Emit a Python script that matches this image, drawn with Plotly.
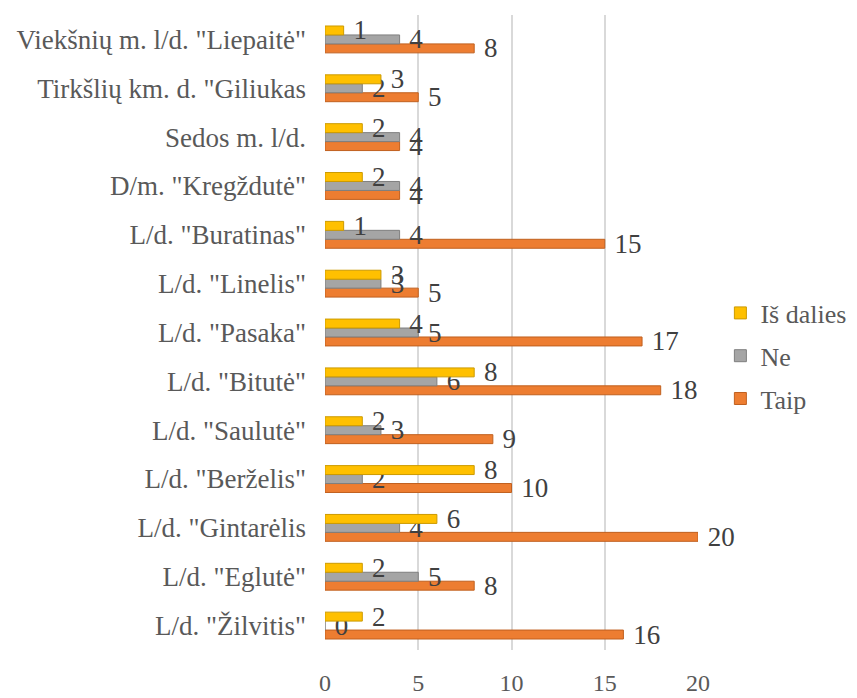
import plotly.graph_objects as go

categories = [
    'L/d. "Žilvitis"', 'L/d. "Eglutė"', 'L/d. "Gintarėlis', 'L/d. "Berželis"',
    'L/d. "Saulutė"', 'L/d. "Bitutė"', 'L/d. "Pasaka"', 'L/d. "Linelis"',
    'L/d. "Buratinas"', 'D/m. "Kregždutė"', 'Sedos m. l/d.',
    'Tirkšlių km. d. "Giliukas', 'Viekšnių m. l/d. "Liepaitė"'
]
taip = [16, 8, 20, 10, 9, 18, 17, 5, 15, 4, 4, 5, 8]
ne = [0, 5, 4, 2, 3, 6, 5, 3, 4, 4, 4, 2, 4]
is_dalies = [2, 2, 6, 8, 2, 8, 4, 3, 1, 2, 2, 3, 1]
x_ticks = [0, 5, 10, 15, 20]

series = [
    ("Taip", taip, "#ED7D31", "#C0601F", 3),
    ("Ne", ne, "#A5A5A5", "#7F7F7F", 2),
    ("Iš dalies", is_dalies, "#FFC000", "#CC9A00", 1),
]

font_family = "Liberation Serif, Times New Roman, serif"
fig = go.Figure()
for name, vals, col, edge, rank in series:
    fig.add_trace(go.Bar(
        y=categories, x=vals, name=name, orientation="h",
        marker=dict(color=col, line=dict(color=edge, width=1)),
        text=["\u00a0" + str(v) for v in vals], textposition="outside",
        textfont=dict(family=font_family, size=27, color="#404040"),
        cliponaxis=False, constraintext="none",
        legendgroup=name, legendrank=rank,
    ))

fig.update_layout(
    barmode="group", bargap=0.45, bargroupgap=0,
    width=857, height=698,
    margin=dict(l=317, r=167, t=7, b=56, autoexpand=False),
    plot_bgcolor="white", paper_bgcolor="white",
    font=dict(family=font_family, size=27, color="#595959"),
    xaxis=dict(range=[0, 20], tickvals=x_ticks, showgrid=True,
               gridcolor="#D9D9D9", gridwidth=1.5, zeroline=False,
               showline=False, ticklabelstandoff=16, automargin=False,
               tickfont=dict(size=24, color="#595959")),
    yaxis=dict(showgrid=False, showline=False, ticks="",
               ticklabelstandoff=18, automargin=False,
               tickfont=dict(size=27, color="#595959")),
    legend=dict(x=1.06, y=0.463, xanchor="left", yanchor="middle",
                traceorder="grouped", tracegroupgap=6,
                font=dict(size=26, color="#595959"),
                itemwidth=30),
    showlegend=True,
)
fig.write_html("out.html")
